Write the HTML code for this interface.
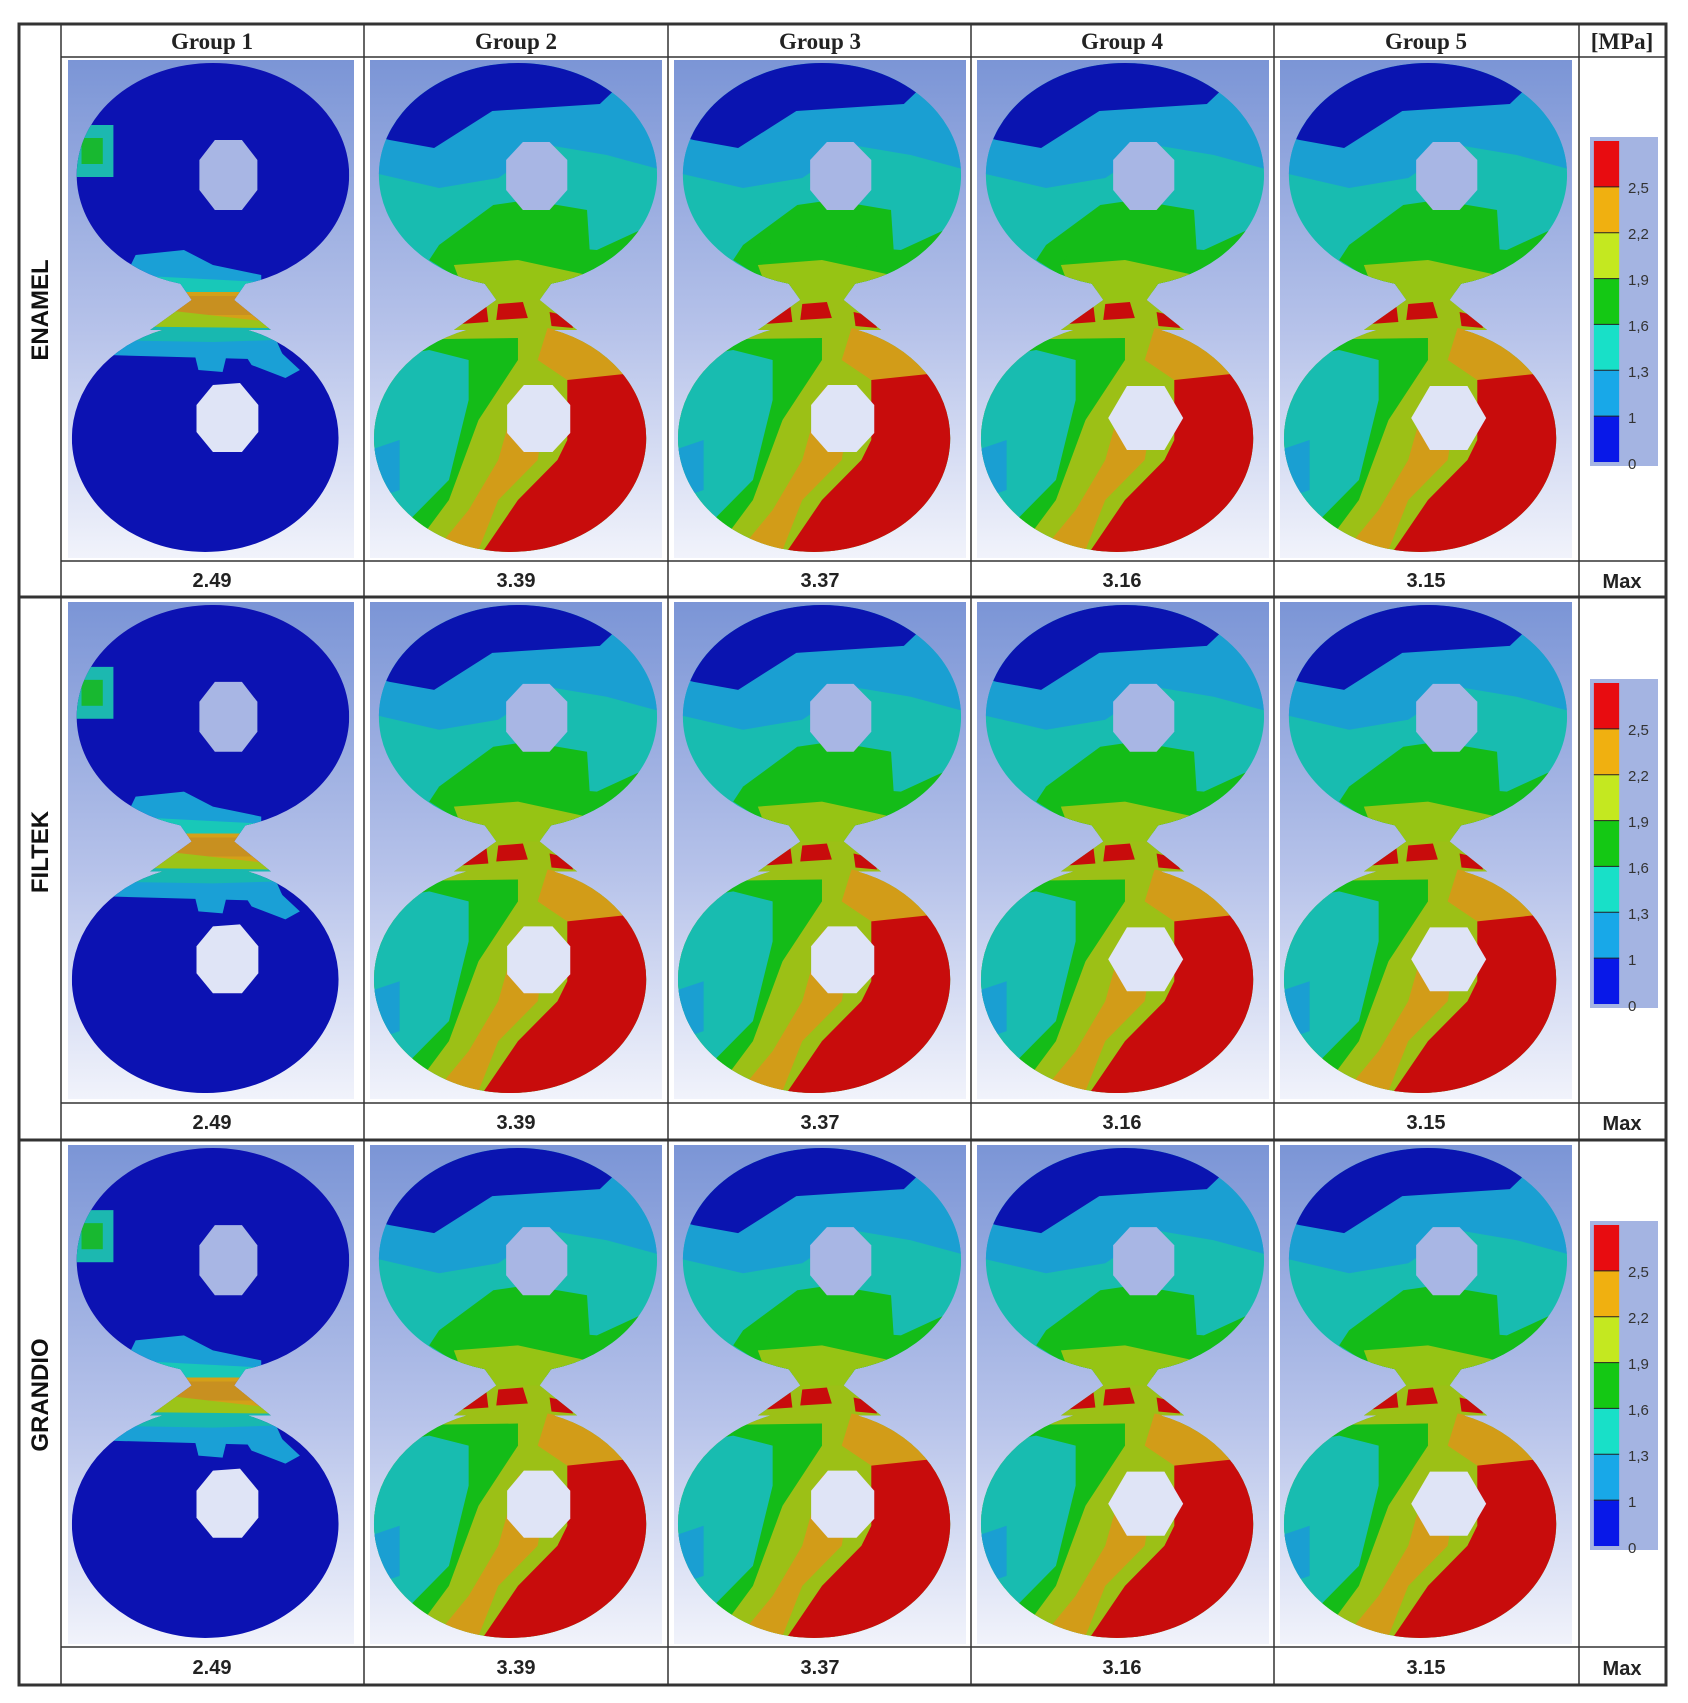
<!DOCTYPE html>
<html><head><meta charset="utf-8">
<style>
html,body{margin:0;padding:0;background:#fff;}
svg{display:block;}
.h{font-family:"Liberation Serif",serif;font-weight:bold;font-size:23px;fill:#222;}
.v{font-family:"Liberation Sans",sans-serif;font-weight:bold;font-size:20px;fill:#222;}
.r{font-family:"Liberation Sans",sans-serif;font-weight:bold;font-size:24px;fill:#111;}
.l{font-family:"Liberation Sans",sans-serif;font-size:15px;fill:#333;}
</style></head><body>
<svg width="1688" height="1703" viewBox="0 0 1688 1703" xmlns="http://www.w3.org/2000/svg">
<defs>
<linearGradient id="bg" x1="0" y1="0" x2="0" y2="1">
<stop offset="0" stop-color="#7b95d6"/><stop offset="0.55" stop-color="#b7c3ea"/><stop offset="1" stop-color="#f1f3fb"/>
</linearGradient>
<clipPath id="c8">
<ellipse cx="150" cy="115" rx="141" ry="112"/>
<ellipse cx="142" cy="378" rx="138" ry="114"/>
<polygon points="108,212 192,212 172,240 210,270 85,270 128,240"/>
</clipPath>
<symbol id="g1" viewBox="0 0 296 498" preserveAspectRatio="none">
<rect width="296" height="498" fill="url(#bg)"/>
<g clip-path="url(#c8)">
<rect width="296" height="498" fill="#0c12b2"/>
<rect x="5" y="65" width="42" height="52" fill="#1cb8b0"/>
<rect x="14" y="78" width="22" height="26" fill="#18b830"/>
<polygon points="70,195 120,190 150,205 200,215 200,232 120,228 60,215" fill="#1aa0d6"/>
<polygon points="80,216 200,222 200,236 90,232" fill="#18c8b8"/>
<polygon points="100,232 200,232 215,268 80,268" fill="#d4a018"/>
<polygon points="120,236 180,236 190,255 110,255" fill="#c89020"/>
<polygon points="20,258 100,250 210,262 215,272 20,275" fill="#9cc418"/>
<polygon points="10,266 210,268 220,290 130,292 40,288 10,282" fill="#18b8b0"/>
<polygon points="30,280 150,282 215,280 225,300 40,295" fill="#1aa0d6"/>
<polygon points="130,290 165,292 160,312 135,310" fill="#1aa0d6"/>
<polygon points="180,290 220,292 240,310 225,318 190,305" fill="#1aa0d6"/>
</g>
<polygon points="152,80 180,80 196,100 196,130 180,150 152,150 136,130 136,100" fill="#a8b6e4"/>
<polygon points="150,325 178,323 197,345 197,372 180,392 150,392 133,372 133,345" fill="#dfe4f6"/>
</symbol>
<symbol id="base2" viewBox="0 0 296 498" preserveAspectRatio="none">
<rect width="296" height="498" fill="url(#bg)"/>
<g clip-path="url(#c8)">
<rect width="296" height="498" fill="#18bcb0"/>
<polygon points="0,0 296,0 296,110 240,95 180,85 130,118 70,128 0,112" fill="#1a9fd2"/>
<polygon points="0,0 296,0 296,20 250,28 233,44 124,51 65,88 20,80 0,75" fill="#0a14b0"/>
<polygon points="70,185 125,145 160,140 220,150 225,225 175,232 100,225 60,200" fill="#14bc18"/>
<polygon points="100,180 230,190 296,160 296,215 200,230 120,230 80,215" fill="#14bc18"/>
<polygon points="85,205 150,200 220,215 200,245 100,245" fill="#96c414"/>
<rect x="0" y="240" width="296" height="258" fill="#9cc016"/>
<polygon points="0,280 70,282 140,285 120,340 80,420 40,470 0,470" fill="#18bcb0"/>
<polygon points="0,390 30,380 30,430 0,440" fill="#1a9fd2"/>
<polygon points="70,282 140,282 150,300 110,360 80,440 50,480 30,470 80,420 100,340 100,300" fill="#14bc18"/>
<polygon points="0,280 150,278 150,300 100,300 60,290 0,300" fill="#14bc18"/>
<polygon points="180,268 296,290 296,340 250,330 200,320 170,300" fill="#d29c18"/>
<polygon points="150,330 180,340 170,400 130,440 110,490 60,498 100,450 130,400" fill="#d29c18"/>
<polygon points="200,320 296,310 296,498 110,498 150,440 190,400 200,380" fill="#c80c0c"/>
<polygon points="96,250 118,246 120,262 92,264" fill="#c80c0c"/>
<polygon points="130,244 155,242 160,258 128,260" fill="#c80c0c"/>
<polygon points="182,252 200,256 206,268 184,266" fill="#c80c0c"/>
</g>
<polygon points="155,82 182,82 200,100 200,130 182,150 155,150 138,130 138,100" fill="#a8b6e4"/>
</symbol>
<symbol id="g2" viewBox="0 0 296 498" preserveAspectRatio="none">
<use href="#base2" x="0" y="0" width="296" height="498"/>
<polygon points="156,325 185,325 203,345 203,373 185,392 156,392 139,373 139,345" fill="#dfe4f6"/>
</symbol>
<symbol id="g4" viewBox="0 0 296 498" preserveAspectRatio="none">
<use href="#base2" x="0" y="0" width="296" height="498"/>
<polygon points="133,358 152,326 190,326 209,358 190,390 152,390" fill="#dfe4f6"/>
</symbol>
<symbol id="leg" viewBox="0 0 70 330" preserveAspectRatio="none">
<rect width="70" height="330" fill="#a4b4e2"/>
<rect x="4" y="4" width="26" height="46" fill="#e80c10"/>
<rect x="4" y="50" width="26" height="46" fill="#f0b010"/>
<rect x="4" y="96" width="26" height="46" fill="#c4e820"/>
<rect x="4" y="142" width="26" height="46" fill="#14c814"/>
<rect x="4" y="188" width="26" height="46" fill="#18e0c8"/>
<rect x="4" y="234" width="26" height="46" fill="#18a8e8"/>
<rect x="4" y="280" width="26" height="46" fill="#0818e8"/>
<g stroke="#222" stroke-width="1"><line x1="4" y1="50" x2="30" y2="50"/><line x1="4" y1="96" x2="30" y2="96"/><line x1="4" y1="142" x2="30" y2="142"/><line x1="4" y1="188" x2="30" y2="188"/><line x1="4" y1="234" x2="30" y2="234"/><line x1="4" y1="280" x2="30" y2="280"/></g>
</symbol>
</defs>

<use href="#g1" x="68" y="60" width="286" height="498"/>
<use href="#g2" x="370" y="60" width="292" height="498"/>
<use href="#g2" x="674" y="60" width="292" height="498"/>
<use href="#g4" x="977" y="60" width="292" height="498"/>
<use href="#g4" x="1280" y="60" width="292" height="498"/>

<use href="#g1" x="68" y="602" width="286" height="497"/>
<use href="#g2" x="370" y="602" width="292" height="497"/>
<use href="#g2" x="674" y="602" width="292" height="497"/>
<use href="#g4" x="977" y="602" width="292" height="497"/>
<use href="#g4" x="1280" y="602" width="292" height="497"/>

<use href="#g1" x="68" y="1145" width="286" height="499"/>
<use href="#g2" x="370" y="1145" width="292" height="499"/>
<use href="#g2" x="674" y="1145" width="292" height="499"/>
<use href="#g4" x="977" y="1145" width="292" height="499"/>
<use href="#g4" x="1280" y="1145" width="292" height="499"/>

<use href="#leg" x="1590" y="137" width="68" height="329"/>
<use href="#leg" x="1590" y="679" width="68" height="329"/>
<use href="#leg" x="1590" y="1221" width="68" height="329"/>
<g class="l">
<g><text x="1628" y="193">2,5</text><text x="1628" y="239">2,2</text><text x="1628" y="285">1,9</text><text x="1628" y="331">1,6</text><text x="1628" y="377">1,3</text><text x="1628" y="423">1</text><text x="1628" y="469">0</text></g>
<g transform="translate(0,542)"><text x="1628" y="193">2,5</text><text x="1628" y="239">2,2</text><text x="1628" y="285">1,9</text><text x="1628" y="331">1,6</text><text x="1628" y="377">1,3</text><text x="1628" y="423">1</text><text x="1628" y="469">0</text></g>
<g transform="translate(0,1084)"><text x="1628" y="193">2,5</text><text x="1628" y="239">2,2</text><text x="1628" y="285">1,9</text><text x="1628" y="331">1,6</text><text x="1628" y="377">1,3</text><text x="1628" y="423">1</text><text x="1628" y="469">0</text></g>
</g>

<g stroke="#333" fill="none">
<rect x="19" y="24" width="1647" height="1661" stroke-width="3"/>
<line x1="19" y1="597" x2="1666" y2="597" stroke-width="3"/>
<line x1="19" y1="1140" x2="1666" y2="1140" stroke-width="3"/>
<g stroke-width="1.5">
<line x1="61" y1="24" x2="61" y2="1685"/>
<line x1="364" y1="24" x2="364" y2="1685"/>
<line x1="668" y1="24" x2="668" y2="1685"/>
<line x1="971" y1="24" x2="971" y2="1685"/>
<line x1="1274" y1="24" x2="1274" y2="1685"/>
<line x1="1579" y1="24" x2="1579" y2="1685"/>
<line x1="61" y1="57" x2="1666" y2="57"/>
<line x1="61" y1="561" x2="1666" y2="561"/>
<line x1="61" y1="1103" x2="1666" y2="1103"/>
<line x1="61" y1="1647" x2="1666" y2="1647"/>
</g>
</g>

<g class="h" text-anchor="middle">
<text x="212" y="49">Group 1</text>
<text x="516" y="49">Group 2</text>
<text x="820" y="49">Group 3</text>
<text x="1122" y="49">Group 4</text>
<text x="1426" y="49">Group 5</text>
<text x="1622" y="49">[MPa]</text>
</g>
<g class="v" text-anchor="middle">
<text x="212" y="587">2.49</text><text x="516" y="587">3.39</text><text x="820" y="587">3.37</text><text x="1122" y="587">3.16</text><text x="1426" y="587">3.15</text><text x="1622" y="588">Max</text>
<text x="212" y="1129">2.49</text><text x="516" y="1129">3.39</text><text x="820" y="1129">3.37</text><text x="1122" y="1129">3.16</text><text x="1426" y="1129">3.15</text><text x="1622" y="1130">Max</text>
<text x="212" y="1674">2.49</text><text x="516" y="1674">3.39</text><text x="820" y="1674">3.37</text><text x="1122" y="1674">3.16</text><text x="1426" y="1674">3.15</text><text x="1622" y="1675">Max</text>
</g>
<g class="r" text-anchor="middle">
<text transform="translate(48,310) rotate(-90)">ENAMEL</text>
<text transform="translate(48,852) rotate(-90)">FILTEK</text>
<text transform="translate(48,1395) rotate(-90)">GRANDIO</text>
</g>
</svg>
</body></html>
